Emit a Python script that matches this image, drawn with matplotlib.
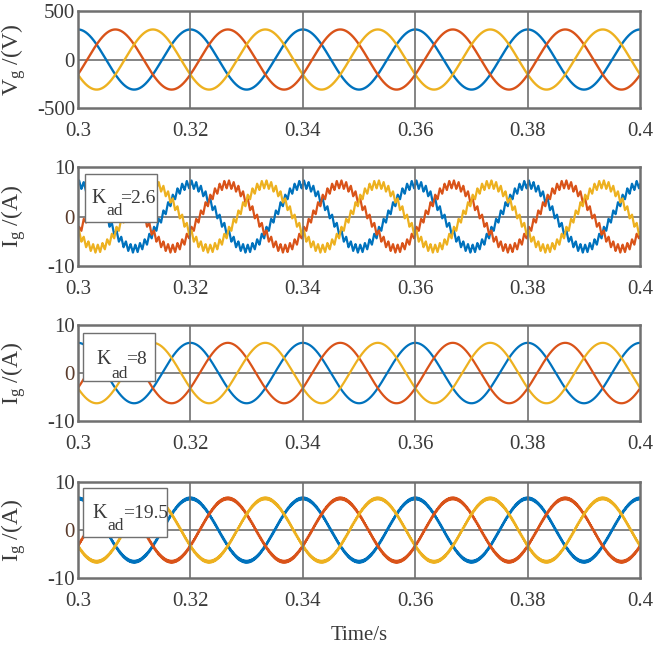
import numpy as np
import matplotlib
matplotlib.use("Agg")
import matplotlib.pyplot as plt
from matplotlib.patches import Rectangle

plt.rcParams["font.family"] = ["Liberation Serif", "DejaVu Serif"]
plt.rcParams["mathtext.fontset"] = "custom"
plt.rcParams["mathtext.rm"] = "Liberation Serif"
plt.rcParams["mathtext.it"] = "Liberation Serif"

# --- data ---
t_start, t_end = 0.3, 0.4
grid_freq = 50                       # Hz
phase_shift_deg = [0, -120, 120]     # blue, red, yellow (blue peaks at t=0.3)
phase_colors = ["#0072BD", "#D95319", "#EDB120"]

v_amp = 310                          # V
i_amps = [6.5, 6.3, 6.6]             # A, panels 2..4
ripple_amps = [0.8, 0.0, 0.22]       # A, switching ripple seen in panels 2..4
ripple_freqs = [1200, 1000, 5000]    # Hz
kad_values = ["2.6", "8", "19.5"]

x_ticks = [0.3, 0.32, 0.34, 0.36, 0.38, 0.4]
x_ticklabels = ["0.3", "0.32", "0.34", "0.36", "0.38", "0.4"]
v_ticks = [-500, 0, 500]
i_ticks = [-10, 0, 10]

t = np.linspace(t_start, t_end, 20001)
w = 2 * np.pi * grid_freq

W, H = 660, 657
fig = plt.figure(figsize=(6.6, 6.57), dpi=100)
left, width = 0.118, 0.852
rects = [
    (left, 0.8356, width, 0.1476),
    (left, 0.5951, width, 0.1507),
    (left, 0.3592, width, 0.1460),
    (left, 0.1202, width, 0.1460),
]
edge = "#707070"
txt = "#3a3a3a"

# K_ad label boxes in pixels: box (x0, y0, x1, y1), K left, K baseline, sub left, sub baseline, rest left
kad_layout = [
    ((85, 174, 157, 222), 91, 203, 106, 215, 120),
    ((83, 333, 155, 381), 96, 364, 111, 378, 126),
    ((83, 488, 167, 537), 92, 518, 107, 530, 123),
]


def fx(px):
    return px / W


def fy(py):
    return 1 - py / H


def style_axes(ax, yticks, ylabel):
    ax.set_xlim(t_start, t_end)
    ax.set_ylim(yticks[0], yticks[-1])
    ax.set_xticks(x_ticks)
    ax.set_xticklabels(x_ticklabels)
    ax.set_yticks(yticks)
    ax.set_yticklabels([str(v) for v in yticks])
    ax.tick_params(length=0, labelsize=15, colors=txt)
    ax.tick_params(axis="x", pad=10)
    ax.tick_params(axis="y", pad=2)
    for x in x_ticks[1:-1]:
        ax.axvline(x, color=edge, lw=1.2, zorder=3)
    ax.axhline(0, color=edge, lw=1.2, zorder=0.5)
    for sp in ax.spines.values():
        sp.set_color(edge)
        sp.set_linewidth(1.8)
    ax.set_ylabel(ylabel, fontsize=17, color=txt)
    ax.yaxis.set_label_coords(-0.088, 0.5)


# grid voltage
ax = fig.add_axes(rects[0])
for ph, c in zip(phase_shift_deg, phase_colors):
    ax.plot(t, v_amp * np.cos(w * t + np.deg2rad(ph)), color=c, lw=1.7, zorder=2)
style_axes(ax, v_ticks, r"V$_{\mathrm{g}}$ /(V)")

# grid currents for each K_ad
for k in range(3):
    ax = fig.add_axes(rects[k + 1])
    for ph, c in zip(phase_shift_deg, phase_colors):
        base = i_amps[k] * np.cos(w * t + np.deg2rad(ph))
        # triangular switching ripple
        rip = ripple_amps[k] * (2 / np.pi) * np.arcsin(np.sin(2 * np.pi * ripple_freqs[k] * t))
        ax.plot(t, base + rip, color=c, lw=1.6 if k < 2 else 1.5, zorder=2)
    style_axes(ax, i_ticks, r"I$_{\mathrm{g}}$ /(A)")
    ax.get_yticklabels()[1].set_color("#5a3b2b")

    (x0, y0, x1, y1), kx, kb, sx, sb, rx = kad_layout[k]
    ax.add_patch(Rectangle((fx(x0), fy(y1)), fx(x1) - fx(x0), fy(y0) - fy(y1),
                           transform=fig.transFigure, fc="white", ec=edge,
                           lw=1, zorder=5, clip_on=False))
    fig.text(fx(kx), fy(kb), "K", fontsize=14.5, color=txt, va="baseline", zorder=6)
    fig.text(fx(sx), fy(sb), "ad", fontsize=12.5, color=txt, va="baseline", zorder=6)
    fig.text(fx(rx), fy(kb), "=" + kad_values[k], fontsize=14, color=txt,
             va="baseline", zorder=6)
    if k == 2:
        ax.set_xlabel("Time/s", fontsize=15, color=txt, labelpad=11)

fig.savefig("out.png", dpi=100)
